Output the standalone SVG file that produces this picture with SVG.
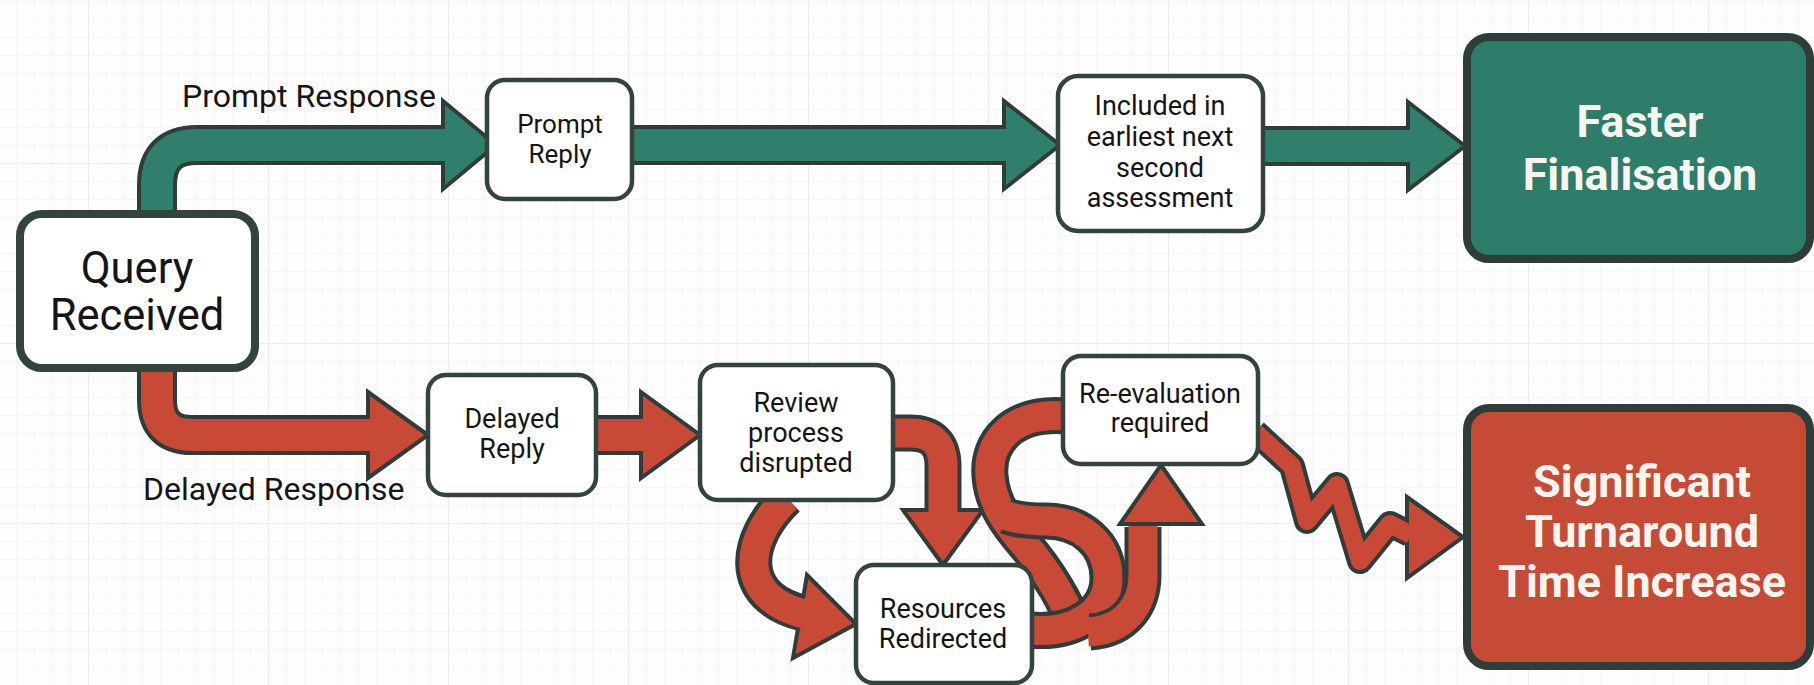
<svg xmlns="http://www.w3.org/2000/svg" width="1814" height="685" viewBox="0 0 1814 685">
<defs>
<pattern id="minor" x="88" y="163" width="18" height="18" patternUnits="userSpaceOnUse">
<path d="M0 0H18M0 0V18" fill="none" stroke="#efefef" stroke-width="1"/>
</pattern>
<pattern id="major" x="88" y="163" width="180" height="180" patternUnits="userSpaceOnUse">
<path d="M0 0H180M0 0V180" fill="none" stroke="#e2e2e2" stroke-width="1.2"/>
</pattern>
<style>
.box{fill:#fff;stroke:#33443f;stroke-width:4.5}
.t{font-family:Roboto,"Liberation Sans",sans-serif;fill:#151515;text-anchor:middle;font-size:27px}
.lbl{font-family:Roboto,"Liberation Sans",sans-serif;fill:#151515;font-size:32px}
.big{font-family:Roboto,"Liberation Sans",sans-serif;fill:#f6f6ef;text-anchor:middle;font-weight:700;font-size:45px}
.out{fill:none;stroke:#2e3d3a;stroke-linecap:butt;stroke-linejoin:round}
.gin{fill:none;stroke:#2f7f6c;stroke-linecap:butt;stroke-linejoin:round}
.rin{fill:none;stroke:#c84a36;stroke-linecap:butt;stroke-linejoin:round}
.gh{fill:#2f7f6c;stroke:#2e3d3a;stroke-width:4;stroke-linejoin:miter}
.rh{fill:#c84a36;stroke:#2e3d3a;stroke-width:4;stroke-linejoin:miter}
.w40{stroke-width:40}.w32{stroke-width:32}
.w36{stroke-width:37}.w29{stroke-width:29}
.w26{stroke-width:26}.w18{stroke-width:18}
</style>
</defs>
<rect width="1814" height="685" fill="#fdfdfd"/>
<rect width="1814" height="685" fill="url(#minor)"/>
<rect width="1814" height="685" fill="url(#major)"/>

<g id="connectors">
<!-- Query -> Prompt Reply -->
<path class="out w40" d="M157 214V185Q157 145 197 145H446"/>
<polygon class="gh" points="443,101 496,145 443,189"/>
<path class="gin w32" d="M157 214V185Q157 145 197 145H447"/>
<!-- Prompt Reply -> Included -->
<path class="out w40" d="M630 145H1007"/>
<polygon class="gh" points="1004,101 1060,145 1004,189"/>
<path class="gin w32" d="M630 145H1008"/>
<!-- Included -> Faster -->
<path class="out w40" d="M1261 146H1411"/>
<polygon class="gh" points="1408,102 1465,146 1408,190"/>
<path class="gin w32" d="M1261 146H1412"/>

<!-- Query -> Delayed Reply -->
<path class="out w40" d="M157 368V400Q157 435 192 435H371"/>
<polygon class="rh" points="368,392 428,435 368,478"/>
<path class="rin w32" d="M157 368V400Q157 435 192 435H372"/>
<!-- Delayed Reply -> Review -->
<path class="out w40" d="M595 435H644"/>
<polygon class="rh" points="641,392 700,435 641,478"/>
<path class="rin w32" d="M595 435H645"/>

<!-- Review -> Resources (right curl) -->
<path class="out w36" d="M891 433H910Q943 433 943 466V513"/>
<polygon class="rh" points="903,510 943,565 983,510"/>
<path class="rin w29" d="M891 433H910Q943 433 943 466V514"/>
<!-- Review -> Resources (left curl) -->
<path class="out w36" d="M787 498C745 538 735 596 803 613"/>
<polygon class="rh" points="807,575 856,624 793,658"/>
<path class="rin w29" d="M787 498C745 538 735 596 804 614"/>

<!-- Resources -> Re-evaluation knot -->
<path class="out w36" d="M1066 416C1012 412 987 442 990 476C992 503 1006 523 1026 546C1048 572 1064 598 1076 628"/>
<path class="rin w29" d="M1066 416C1012 412 987 442 990 476C992 503 1006 523 1026 546C1048 572 1064 598 1076 630"/>
<path class="out w36" d="M1030 630C1075 634 1108 612 1108 578C1108 543 1080 521 1046 521C1030 521 1018 520 1006 516"/>
<path class="rin w29" d="M1030 630C1075 634 1108 612 1108 578C1108 543 1080 521 1046 521C1030 521 1018 520 1004 515"/>
<path class="out w36" d="M1090 632C1125 630 1143 605 1143 575V527"/>
<polygon class="rh" points="1120,524 1161,465 1202,524"/>
<path class="rin w29" d="M1088 632C1125 630 1143 605 1143 575V526"/>

<!-- Re-evaluation -> Significant (zigzag) -->
<path class="out w26" d="M1255 432L1292 466L1307 521L1337 485L1360 561L1390 524L1410 534"/>
<polygon class="rh" points="1407,497 1463,537 1407,578"/>
<path class="rin w18" d="M1255 432L1292 466L1307 521L1337 485L1360 561L1390 524L1411 535"/>
</g>

<g id="labels">
<text class="lbl" x="182" y="107">Prompt Response</text>
<text class="lbl" x="143" y="500">Delayed Response</text>
</g>

<g id="node-query">
<rect class="box" x="20" y="214" width="235" height="154" rx="22" style="stroke-width:8"/>
<text class="t" x="137" y="283" style="font-size:43.5px">Query</text>
<text class="t" x="137" y="330" style="font-size:43.5px">Received</text>
</g>
<g id="node-prompt-reply">
<rect class="box" x="487" y="80" width="145" height="119" rx="18"/>
<text class="t" x="560" y="133" style="font-size:26px">Prompt</text>
<text class="t" x="560" y="163" style="font-size:26px">Reply</text>
</g>
<g id="node-included">
<rect class="box" x="1058" y="76" width="205" height="155" rx="20"/>
<text class="t" x="1160" y="115">Included in</text>
<text class="t" x="1160" y="146">earliest next</text>
<text class="t" x="1160" y="177">second</text>
<text class="t" x="1160" y="207">assessment</text>
</g>
<g id="node-faster">
<rect x="1467" y="37" width="343" height="222" rx="22" fill="#2e7d6b" stroke="#2e3d3a" stroke-width="8"/>
<text class="big" x="1640" y="137">Faster</text>
<text class="big" x="1640" y="190">Finalisation</text>
</g>
<g id="node-delayed-reply">
<rect class="box" x="428" y="375" width="168" height="120" rx="18"/>
<text class="t" x="512" y="428">Delayed</text>
<text class="t" x="512" y="458">Reply</text>
</g>
<g id="node-review">
<rect class="box" x="700" y="365" width="193" height="135" rx="18"/>
<text class="t" x="796" y="412">Review</text>
<text class="t" x="796" y="442">process</text>
<text class="t" x="796" y="472">disrupted</text>
</g>
<g id="node-resources">
<rect class="box" x="856" y="565" width="176" height="118" rx="18"/>
<text class="t" x="943" y="618">Resources</text>
<text class="t" x="943" y="648">Redirected</text>
</g>
<g id="node-reevaluation">
<rect class="box" x="1063" y="356" width="195" height="108" rx="18"/>
<text class="t" x="1160" y="403">Re-evaluation</text>
<text class="t" x="1160" y="432">required</text>
</g>
<g id="node-significant">
<rect x="1467" y="408" width="343" height="258" rx="22" fill="#c64b37" stroke="#2e3d3a" stroke-width="8"/>
<text class="big" x="1642" y="497">Significant</text>
<text class="big" x="1642" y="547">Turnaround</text>
<text class="big" x="1642" y="597">Time Increase</text>
</g>
</svg>
